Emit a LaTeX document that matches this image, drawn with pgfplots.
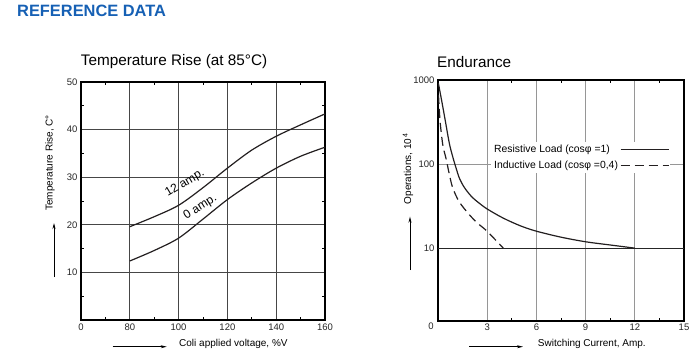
\documentclass[border=0pt]{standalone}
\usepackage{fontspec}
\setmainfont{Liberation Sans}
\usepackage{pgfplots}
\pgfplotsset{compat=1.18}
\usetikzlibrary{arrows.meta}
\definecolor{hdrblue}{RGB}{22,96,180}
\definecolor{curve}{RGB}{35,31,32}
\definecolor{gridl}{RGB}{70,70,70}
\definecolor{gridr}{RGB}{150,150,150}
\newcommand{\tickfont}{\fontsize{9.5bp}{11bp}\selectfont}
\newcommand{\labfont}{\fontsize{10bp}{12bp}\selectfont}
\newcommand{\titfont}{\fontsize{15.3bp}{18bp}\selectfont}

\pgfplotstableread{
x y
80 19.6
90 21.7
100 24.1
110 27.8
120 31.9
130 35.7
140 38.6
150 41.0
160 43.3
}\twelveamp
\pgfplotstableread{
x y
80 12.4
90 14.6
100 17.2
110 21.2
120 25.3
130 28.8
140 31.9
150 34.4
160 36.3
}\zeroamp
\pgfplotstableread{
x y
0.02 921
0.25 532
0.45 323
0.70 173
0.93 116
1.10 89.8
1.30 68.2
1.55 54.8
1.81 46.5
2.10 40.0
2.50 34.4
3.00 29.2
3.95 22.9
5.00 18.5
6.00 15.9
7.50 13.5
9.00 11.9
10.5 10.9
12.0 10
}\resistive
\pgfplotstableread{
x y
0.03 663
0.12 334
0.29 170
0.49 116
0.70 74.1
0.90 51.9
1.30 35.4
1.91 25.0
2.40 19.9
2.99 15.9
3.98 10
}\inductive

\begin{document}
\begin{tikzpicture}[x=1bp,y=1bp]
\useasboundingbox (0,0) rectangle (699,363);
\node[anchor=west, inner sep=0, text=hdrblue, font=\fontsize{16.4bp}{18bp}\selectfont\bfseries] at (17,352.5) {REFERENCE DATA};
\node[anchor=west, inner sep=0, font=\titfont] at (80.7,301) {Temperature Rise (at 85°C)};
\node[anchor=west, inner sep=0, font=\titfont] at (437,301.3) {Endurance};

% left axis labels
\node[rotate=90, inner sep=0, font=\labfont] at (50,200) {Temperature Rise, C°};
\draw[line width=0.8bp, -{Stealth[length=6bp,width=3bp]}] (54,86) -- (54,140);
\node[anchor=west, inner sep=0, font=\labfont] at (179,19) {Coli applied voltage, \%V};
\draw[line width=0.8bp, -{Stealth[length=6bp,width=3bp]}] (112.7,16.3) -- (166.7,16.3);

% right axis labels
\node[rotate=90, inner sep=0, font=\labfont] at (408,194.5) {Operations, 10\,\textsuperscript{4}};
\draw[line width=0.8bp, -{Stealth[length=6bp,width=3bp]}] (410,93) -- (410,146.3);
\node[anchor=west, inner sep=0, font=\labfont] at (537.7,19) {Switching Current, Amp.};
\draw[line width=0.8bp, -{Stealth[length=6bp,width=3bp]}] (469,16.3) -- (523,16.3);

\begin{axis}[
  at={(81bp,43bp)}, anchor=south west, scale only axis,
  width=244bp, height=238bp,
  xmin=60, xmax=160, ymin=0, ymax=50,
  xtick={60,80,100,120,140,160}, xticklabels={0,80,100,120,140,160},
  ytick={10,20,30,40,50}, yticklabels={10,20,30,40,50},
  minor xtick={70,90,110,130,150}, minor ytick={5,15,25,35,45},
  major tick length=0pt, minor tick length=3bp, tick align=inside,
  minor tick style={black, line width=1bp},
  grid=major, grid style={gridl, line width=0.8bp},
  axis line style={black, line width=1.6bp},
  tick label style={font=\tickfont, text=black!85},
  /pgf/number format/assume math mode=true,
  clip=false,
]
\addplot[curve, line width=1.2bp, smooth] table[x=x,y=y] {\twelveamp};
\addplot[curve, line width=1.2bp, smooth] table[x=x,y=y] {\zeroamp};
\node[rotate=30.6, inner sep=0, font=\fontsize{12bp}{14bp}\selectfont] at (axis cs:102.6,28.7) {12 amp.};
\node[rotate=32, inner sep=0, font=\fontsize{12bp}{14bp}\selectfont] at (axis cs:108.9,23.7) {0 amp.};
\end{axis}

\begin{axis}[
  at={(438bp,42.3bp)}, anchor=south west, scale only axis,
  width=246bp, height=240.7bp,
  xmin=0, xmax=15, ymode=log, ymin=1.37, ymax=1000,
  xtick={3,6,9,12,15}, xticklabels={3,6,9,12,15},
  extra x ticks={0}, extra x tick labels={0},
  extra x tick style={grid=none, xticklabel style={xshift=-7bp, yshift=1bp}},
  ytick={100,1000}, yticklabels={100,1000},
  extra y ticks={10}, extra y tick labels={10},
  extra y tick style={grid style={black!85, line width=0.9bp}},
  minor xtick={4.5,7.5,10.5,13.5}, yminorticks=false,
  major tick length=0pt, minor tick length=3bp, tick align=inside,
  minor tick style={black, line width=1bp},
  grid=major, grid style={gridr, line width=0.9bp},
  axis line style={black, line width=1.6bp},
  tick label style={font=\tickfont, text=black!85},
  /pgf/number format/assume math mode=true,
  legend style={at={(0.2154,0.742)}, anchor=north west, draw=none, fill=white,
    font=\fontsize{10.4bp}{12bp}\selectfont, inner sep=1bp, row sep=2.5bp},
  legend cell align=left,
  legend plot pos=right,
  legend image code/.code={\draw[#1] (0bp,0bp) -- (48bp,0bp);},
]
\addplot[curve, line width=1.2bp, smooth] table[x=x,y=y] {\resistive};
\addlegendentry{Resistive Load (cosφ =1)}
\addplot[curve, line width=1.2bp, smooth, dash pattern=on 9bp off 5bp] table[x=x,y=y] {\inductive};
\addlegendentry{Inductive Load (cosφ =0,4)}
\end{axis}
\end{tikzpicture}
\end{document}
